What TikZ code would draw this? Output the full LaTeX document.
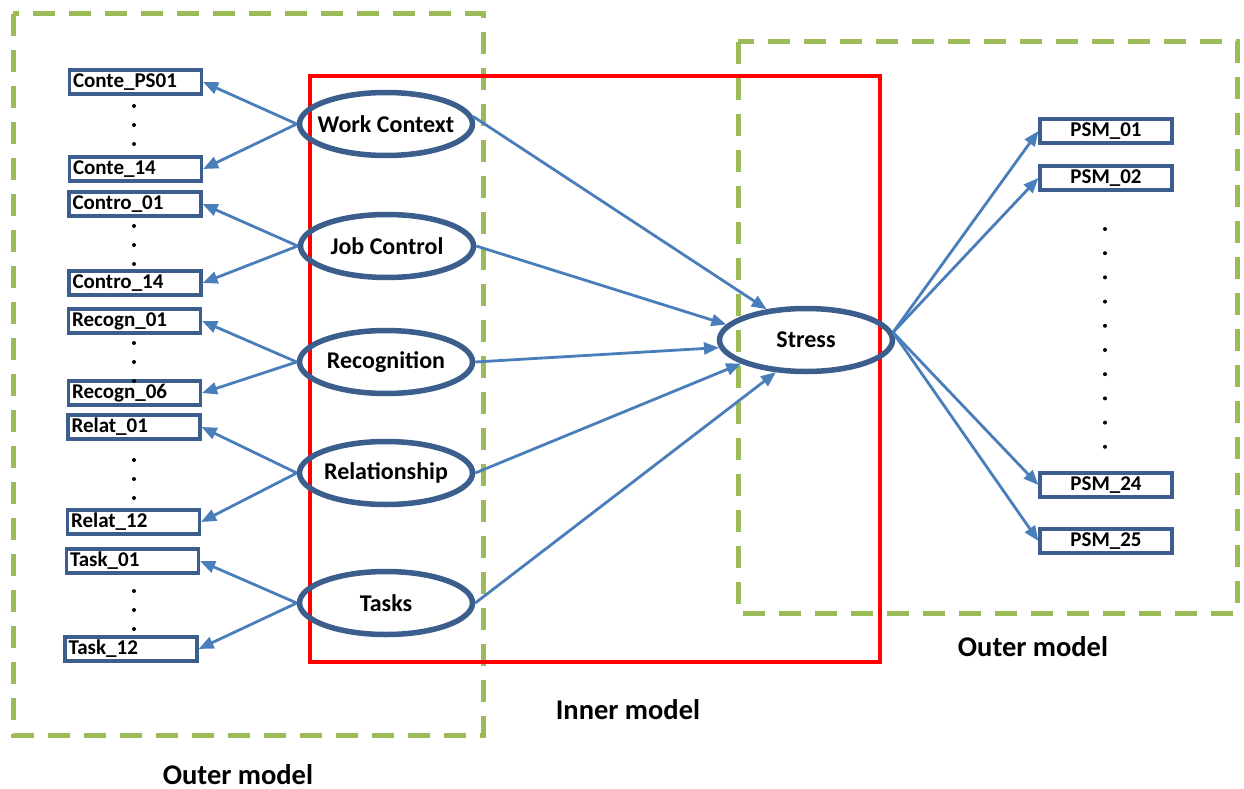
\documentclass[tikz,border=0pt]{standalone}
\usepackage{fontspec}
\setmainfont{Carlito}
\usetikzlibrary{shapes.geometric,arrows.meta}
\definecolor{grn}{HTML}{9BBB59}
\definecolor{dblue}{HTML}{3B5E8C}
\definecolor{lblue}{HTML}{4A7EBB}
\newcommand\ztext[1]{\makebox[0pt]{#1}}
\begin{document}
\begin{tikzpicture}[x=1pt,y=-1pt,
  item/.style={draw=dblue, line width=3.2pt, minimum height=24pt, text width=125pt,
    inner xsep=3.5pt, inner ysep=0pt, align=left, font=\bfseries\fontsize{21}{23}\selectfont},
  psm/.style={item, align=center},
  latent/.style={ellipse, draw=dblue, line width=5.5pt, minimum width=173pt,
    minimum height=63pt, inner sep=0pt, font=\bfseries\fontsize{24}{26}\selectfont},
  arr/.style={draw=lblue, line width=2.8pt, -{Triangle[length=15pt,width=12pt]}},
  modelbox/.style={draw=grn, line width=5pt, dash pattern=on 22pt off 14pt},
  innerbox/.style={draw=red, line width=4pt},
  caption/.style={font=\bfseries\fontsize{28.5}{30}\selectfont, inner sep=0pt, anchor=base},
  dot/.style={fill=black}]
\useasboundingbox (0,0) rectangle (1244,789);

% model frames
\draw[modelbox] (13,14) rectangle (483,735);
\draw[modelbox] (738,42) rectangle (1237,613);
\draw[innerbox] (310,76) rectangle (880,662);

% indicator boxes (left)
\node[item] (c1)   at (135.5,82)  {Conte\_PS01};
\node[item] (c14)  at (135.5,169) {Conte\_14};
\node[item] (ct1)  at (135,204)   {Contro\_01};
\node[item] (ct14) at (135,283)   {Contro\_14};
\node[item] (r1)   at (134.5,321) {Recogn\_01};
\node[item] (r6)   at (134.5,393) {Recogn\_06};
\node[item] (rl1)  at (134,427)   {Relat\_01};
\node[item] (rl12) at (133.5,522) {Relat\_12};
\node[item] (t1)   at (132.5,561) {Task\_01};
\node[item] (t12)  at (131,649)   {Task\_12};

% dots (left)
\foreach \y in {106,125,144, 226,245,264, 343,362,381, 460,479,498, 591,610,629}
  \fill[dot] (134,\y) circle (2);

% latent variables
\node[latent] (wc)  at (386,124) {\ztext{Work Context}};
\node[latent] (jc)  at (387,246) {\ztext{Job Control}};
\node[latent] (rec) at (386,362) {\ztext{Recognition}};
\node[latent] (rel) at (386,473) {\ztext{Relationship}};
\node[latent] (tk)  at (386,603) {\ztext{Tasks}};
\node[latent] (st)  at (806,340) {\ztext{Stress}};

% indicator boxes (right)
\node[psm] (p1)  at (1106,131) {PSM\_01};
\node[psm] (p2)  at (1106,178) {PSM\_02};
\node[psm] (p24) at (1106,485) {PSM\_24};
\node[psm] (p25) at (1106,541) {PSM\_25};
\foreach \i in {0,...,9}
  \fill[dot] (1105,{229+24.2*\i}) circle (2);

% outer model arrows (left)
\draw[arr] (wc.west)  -- (c1.east);
\draw[arr] (wc.west)  -- (c14.east);
\draw[arr] (jc.west)  -- (ct1.east);
\draw[arr] (jc.west)  -- (ct14.east);
\draw[arr] (rec.west) -- (r1.east);
\draw[arr] (rec.west) -- (r6.east);
\draw[arr] (rel.west) -- (rl1.east);
\draw[arr] (rel.west) -- (rl12.east);
\draw[arr] (tk.west)  -- (t1.east);
\draw[arr] (tk.west)  -- (t12.east);

% inner model arrows
\draw[arr] (wc.5)    -- (st.142);
\draw[arr] (jc.east) -- (st.169);
\draw[arr] (rec.east) -- (st.185);
\draw[arr] (rel.east) -- (st.200);
\draw[arr] (tk.east) -- (st.227);

% outer model arrows (right)
\draw[arr] (st.5) -- (p1.west);
\draw[arr] (st.5) -- (p2.west);
\draw[arr] (st.5) -- (p24.west);
\draw[arr] (st.5) -- (p25.west);

% captions
\node[caption] (om1) at (238,784) {Outer model};
\node[caption] (im)  at (628,719) {Inner model};
\node[caption] (om2) at (1033,656) {Outer model};
\end{tikzpicture}
\end{document}
